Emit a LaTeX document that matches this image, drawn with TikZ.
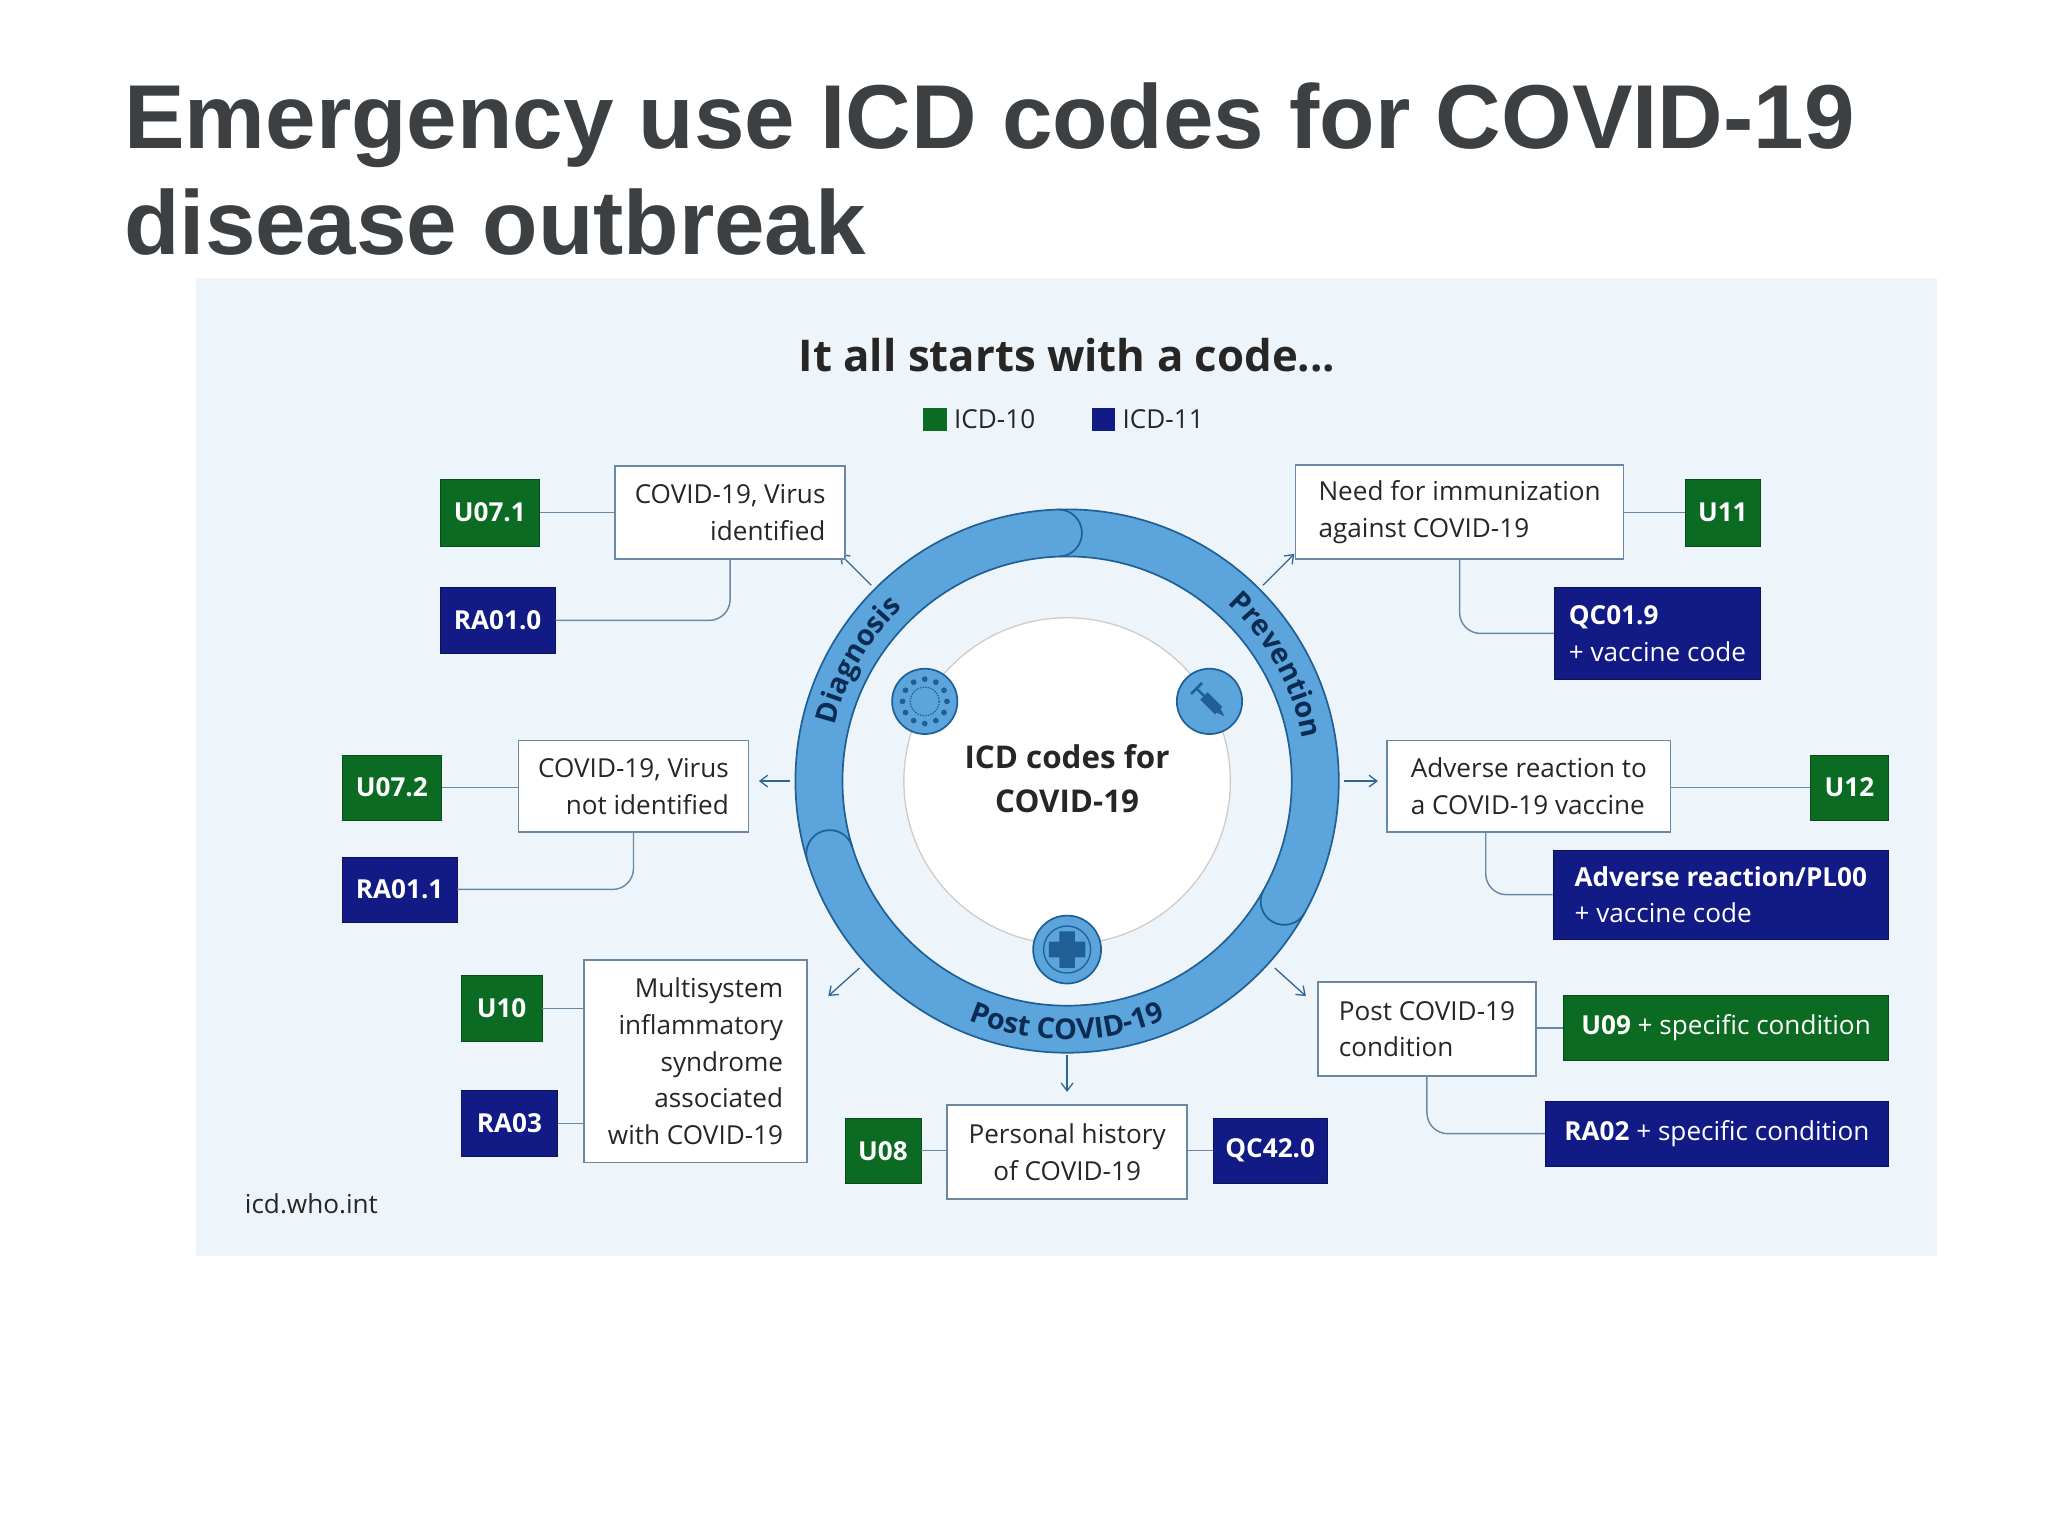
\documentclass[tikz,border=0pt]{standalone}
\usepackage{fontspec}
\setmainfont{Open Sans}
\newfontfamily\titlefont{Liberation Sans}
\usetikzlibrary{calc,arrows.meta,decorations.text}
\definecolor{icdgreen}{HTML}{0B6B23}
\definecolor{icdnavy}{HTML}{121A86}
\definecolor{panel}{HTML}{EEF5FA}
\definecolor{ringblue}{HTML}{5BA5DC}
\definecolor{ringdark}{HTML}{1F5F95}
\definecolor{boxline}{HTML}{6A88A4}
\definecolor{titlegray}{HTML}{3C4043}
\definecolor{labnavy}{HTML}{0D2C54}
\newcommand\bnode[7]{\node[#1, minimum width={(#5-#3)*1pt}, minimum height={(#6-#4)*1pt}] (#2) at ({(#3+#5)/2},{1176-(#4+#6)/2}) {#7};}
\begin{document}
\begin{tikzpicture}[x=1pt,y=1pt,
  txt/.style={font=\fontsize{20}{28}\selectfont, text=black!85},
  wbox/.style={txt, draw=boxline, line width=1.2pt, fill=white, inner sep=6pt},
  gbox/.style={font=\fontsize{20}{28}\selectfont\bfseries, text=white, fill=icdgreen, draw=icdgreen!70!black, align=center, inner sep=2pt},
  nbox/.style={gbox, fill=icdnavy, draw=icdnavy!70!black},
  conn/.style={draw=boxline, line width=1.1pt, rounded corners=16pt},
  arr/.style={draw=ringdark!80!gray, line width=1pt, -{Straight Barb[length=6pt,width=9pt]}},
  ringlab/.style={decoration={text along path, text align=center, text={|\fontsize{22}{22}\selectfont\bfseries\color{labnavy}|#1}}, decorate}
]
\useasboundingbox (0,0) rectangle (1568,1176);
\fill[white] (0,0) rectangle (1568,1176);
\fill[panel] (150,{1176-962}) rectangle (1483,{1176-213});
% title
\node[anchor=base west, inner sep=0, font=\titlefont\fontsize{69.5}{80}\selectfont\bfseries, text=titlegray] (t1) at (95,{1176-114}) {Emergency use ICD codes for COVID-19};
\node[anchor=base west, inner sep=0, font=\titlefont\fontsize{69.5}{80}\selectfont\bfseries, text=titlegray] (t2) at (95,{1176-195}) {disease outbreak};
\node[font=\fontsize{33.5}{36}\selectfont\bfseries, text=black!85] (sub) at (817,{1176-272}) {It all starts with a code...};
% legend
\node[fill=icdgreen, minimum size=18pt, inner sep=0] (lg1) at (716,{1176-321}) {};
\node[txt, anchor=west] (lg1t) at (727,{1176-321}) {ICD-10};
\node[fill=icdnavy, minimum size=18pt, inner sep=0] (lg2) at (845,{1176-321}) {};
\node[txt, anchor=west] (lg2t) at (856,{1176-321}) {ICD-11};
% ring
\coordinate (c) at (817,578);
\fill[ringblue, even odd rule] (c) circle (208) (c) circle (172);
\draw[ringdark, line width=1.3pt] (c) circle (208) (c) circle (172);
\draw[white!60!gray, line width=1pt, fill=white] (c) circle (125);
\foreach \a in {92,197,-29}{
  \draw[ringdark, line width=1.3pt] ($(c)+(\a:190)+(\a:18)$) arc[start angle=\a, end angle=\a-180, radius=18];
}
\path[ringlab=Diagnosis] ($(c)+(172:183)$) arc[start angle=172, end angle=128, radius=183];
\path[ringlab=Prevention] ($(c)+(52:183)$) arc[start angle=52, end angle=6, radius=183];
\path[ringlab=Post COVID-19] ($(c)+(242:198)$) arc[start angle=242, end angle=298, radius=198];
\node[font=\fontsize{24}{34}\selectfont\bfseries, text=black!85, align=center] (ctr) at (817,580) {ICD codes for\\COVID-19};
% icons
\node[circle, fill=ringblue, draw=ringdark, line width=1.3pt, minimum size=50pt] (ic1) at (708,639) {};
\draw[ringdark, line width=1pt, densely dotted] (ic1) circle (11);
\foreach \a in {0,30,...,330}{\fill[ringdark] ($(ic1)+(\a:17)$) circle (2.2);}
\node[circle, fill=ringblue, draw=ringdark, line width=1.3pt, minimum size=50pt] (ic2) at (926,639) {};
\begin{scope}[shift={(926,639)}, rotate=-45]
\fill[ringdark] (-6,-4) rectangle (10,4);
\fill[ringdark] (10,-2) -- (16,0) -- (10,2) -- cycle;
\draw[ringdark, line width=2pt] (-6,0) -- (-14,0) (-14,-6) -- (-14,6);
\end{scope}
\node[circle, fill=ringblue, draw=ringdark, line width=1.3pt, minimum size=52pt] (ic3) at (817,449) {};
\draw[ringdark, line width=1pt] (ic3) circle (18);
\fill[ringdark] (811,435) rectangle (823,463) (803,443) rectangle (831,455);
% arrows
\draw[arr] ($(c)+(135:212)$) -- ($(c)+(135:246)$);
\draw[arr] ($(c)+(45:212)$) -- ($(c)+(45:246)$);
\draw[arr] ($(c)+(180:212)$) -- ($(c)+(180:236)$);
\draw[arr] ($(c)+(0:212)$) -- ($(c)+(0:238)$);
\draw[arr] ($(c)+(222:214)$) -- ($(c)+(222:246)$);
\draw[arr] ($(c)+(-42:214)$) -- ($(c)+(-42:246)$);
\draw[arr] ($(c)+(-90:210)$) -- ($(c)+(-90:238)$);
% boxes
\bnode{wbox, align=right}{b1}{471}{357}{647}{428}{COVID-19, Virus\\identified}
\bnode{gbox}{u071}{337}{367}{413}{418}{U07.1}
\bnode{nbox}{ra010}{337}{450}{425}{500}{RA01.0}
\draw[conn, rounded corners=0] (u071) -- (b1.west|-u071);
\draw[conn] (b1.south) |- (ra010.east);
\bnode{wbox, align=right}{b2}{397}{567}{573}{637}{COVID-19, Virus\\not identified}
\bnode{gbox}{u072}{262}{578}{338}{628}{U07.2}
\bnode{nbox}{ra011}{262}{656}{350}{706}{RA01.1}
\draw[conn, rounded corners=0] (u072) -- (b2.west|-u072);
\draw[conn] (b2.south) |- (ra011.east);
\bnode{wbox, align=right}{b3}{447}{735}{618}{890}{Multisystem\\inflammatory\\syndrome\\associated\\with COVID-19}
\bnode{gbox}{u10}{353}{747}{415}{797}{U10}
\bnode{nbox}{ra03}{353}{835}{427}{885}{RA03}
\draw[conn, rounded corners=0] (u10) -- (b3.west|-u10);
\draw[conn, rounded corners=0] (ra03) -- (b3.west|-ra03);
\bnode{wbox, align=center}{b4}{725}{846}{909}{918}{Personal history\\of COVID-19}
\bnode{gbox}{u08}{647}{856}{705}{906}{U08}
\bnode{nbox}{qc420}{929}{856}{1016}{906}{QC42.0}
\draw[conn, rounded corners=0] (u08) -- (b4.west|-u08);
\draw[conn, rounded corners=0] (qc420) -- (b4.east|-qc420);
\bnode{wbox, align=left}{b5}{1009}{752}{1176}{824}{Post COVID-19\\condition}
\bnode{gbox}{u09}{1197}{762}{1446}{812}{U09 \mdseries+ specific condition}
\bnode{nbox}{ra02}{1183}{843}{1446}{893}{RA02 \mdseries+ specific condition}
\draw[conn, rounded corners=0] (b5.east|-u09) -- (u09);
\draw[conn] (b5.south) |- (ra02.west);
\bnode{wbox, align=left}{b6}{1062}{567}{1279}{637}{Adverse reaction to\\a COVID-19 vaccine}
\bnode{gbox}{u12}{1386}{578}{1446}{628}{U12}
\bnode{nbox, align=left}{pl00}{1189}{651}{1446}{719}{Adverse reaction/PL00\\\mdseries+ vaccine code}
\draw[conn, rounded corners=0] (b6.east|-u12) -- (u12);
\draw[conn] ([xshift=-33pt]b6.south) |- (pl00.west);
\bnode{wbox, align=left}{b7}{992}{356}{1243}{428}{Need for immunization\\against COVID-19}
\bnode{gbox}{u11}{1290}{367}{1348}{418}{U11}
\bnode{nbox, align=left}{qc019}{1190}{450}{1348}{520}{QC01.9\hspace{60pt}\\\mdseries+ vaccine code}
\draw[conn, rounded corners=0] (b7.east|-u11) -- (u11);
\draw[conn] (b7.south) |- (qc019.west);
\node[txt, anchor=west] (url) at (184,{1176-922}) {icd.who.int};
\end{tikzpicture}
\end{document}
